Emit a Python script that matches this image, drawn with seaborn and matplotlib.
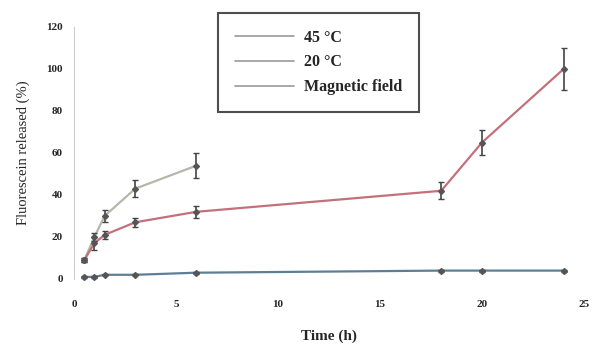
import matplotlib
matplotlib.use("Agg")
import matplotlib.pyplot as plt
import seaborn as sns
import pandas as pd
from matplotlib.lines import Line2D

# Data
t_45 = [0.5, 1, 1.5, 3, 6]
v_45 = [9, 20, 30, 43, 54]
e_45 = [1, 2, 3, 4, 6]

t_20 = [0.5, 1, 1.5, 3, 6, 18, 20, 24]
v_20 = [9, 17, 21, 27, 32, 42, 65, 100]
e_20 = [1, 3, 2, 2, 3, 4, 6, 10]

t_mag = [0.5, 1, 1.5, 3, 6, 18, 20, 24]
v_mag = [1, 1, 2, 2, 3, 4, 4, 4]
e_mag = [0.3, 0.3, 0.3, 0.3, 0.5, 0.5, 0.5, 0.5]

labels = ["45 \u00b0C", "20 \u00b0C", "Magnetic field"]
colors = ["#b4b8a8", "#c4707c", "#5d7f95"]
xticks = [0, 5, 10, 15, 20, 25]
yticks = [0, 20, 40, 60, 80, 100, 120]

sns.set_style("white")
plt.rcParams['font.family'] = ['Liberation Serif', 'DejaVu Serif']

df = pd.concat([
    pd.DataFrame({"t": t_45, "v": v_45, "e": e_45, "s": labels[0]}),
    pd.DataFrame({"t": t_20, "v": v_20, "e": e_20, "s": labels[1]}),
    pd.DataFrame({"t": t_mag, "v": v_mag, "e": e_mag, "s": labels[2]}),
])

fig = plt.figure(figsize=(6.05, 3.49), dpi=100)
ax = fig.add_axes([74 / 605, 70 / 349, 510 / 605, 252 / 349])

sns.lineplot(data=df, x="t", y="v", hue="s", palette=colors, ax=ax,
             linewidth=1.6, legend=False, clip_on=False)
for lab in labels:
    sub = df[df.s == lab]
    ax.errorbar(sub.t, sub.v, yerr=sub.e, fmt="D", color="#555555", ms=3,
                ecolor="#444444", elinewidth=1.2, capsize=2.5, capthick=1.0,
                clip_on=False, zorder=3)

ax.set_xlim(0, 25)
ax.set_ylim(0, 120)
ax.set_xticks(xticks)
ax.set_yticks(yticks)
ax.set_xticklabels([str(x) for x in xticks], fontsize=8, fontweight="bold")
ax.set_yticklabels([str(y) for y in yticks], fontsize=8, fontweight="bold")
ax.tick_params(axis="x", length=0, pad=15)
ax.tick_params(axis="y", length=0, pad=8)
for s in ["top", "right", "bottom"]:
    ax.spines[s].set_visible(False)
ax.spines["left"].set_color("#cccccc")
ax.spines["left"].set_linewidth(0.8)

ax.set_xlabel("Time (h)", fontsize=11, fontweight="bold", labelpad=15)
ax.set_ylabel("Fluorescein released (%)", fontsize=10.5, labelpad=12)

handles = [Line2D([0], [0], color="#9a9a9a", lw=1.2) for _ in labels]
leg = ax.legend(handles, labels, loc="upper left", bbox_to_anchor=(0.282, 1.056),
                frameon=True, fancybox=False, edgecolor="#222222",
                prop={"weight": "bold", "size": 11.5}, handlelength=3.7,
                borderpad=1.05, labelspacing=0.55, handletextpad=0.66, borderaxespad=0)
leg.get_frame().set_linewidth(1.5)

fig.savefig("out.png", dpi=100)
